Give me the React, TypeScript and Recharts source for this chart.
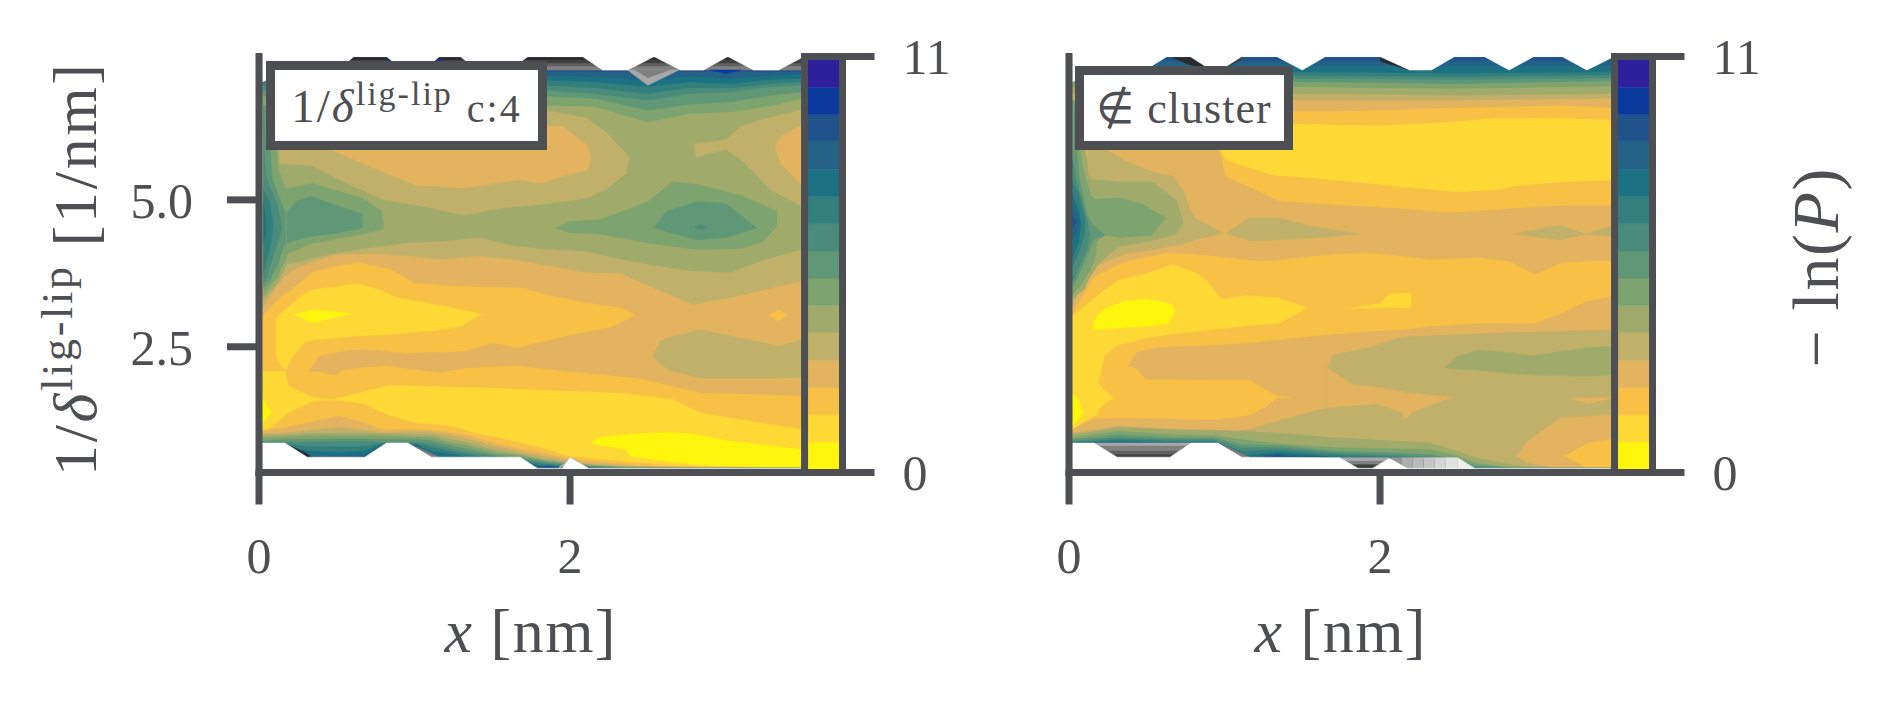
import { Area, ComposedChart, Label, ReferenceLine, XAxis, YAxis } from "recharts";

type Band = { level: number; x: number[]; lo: number[]; hi: number[] };

const INK = "#4e4f53";
const SERIF = "'Liberation Serif', serif";

// colour steps of -ln(P), from 0 (yellow) up to 11 (indigo)
const levelColors = [
  "#fef50c", "#fed936", "#f8c146", "#e3b35f", "#c1b06a", "#a0ab6b", "#7da36f", "#5f9777",
  "#4a8c7c", "#337f7e", "#1c7283", "#246287", "#20528c", "#0a3a9e", "#2e1f9d",
];
// greys used outside of the colour range, keyed by level
const greyColors: Record<number, string> = {
  15: "#a8a8a8", 16: "#808080", 17: "#606060", 18: "#404040", 19: "#2b2b2b",
  20: "#e2e2e2", 21: "#c6c6c6", 22: "#aeaeae", 23: "#969696", 24: "#bababa", 25: "#d4d4d4", 26: "#eeeeee",
  [-1]: "#ffffff",
};

const xTicks = [0, 2];
const yTicks = [2.5, 5];
const cbarTicks = [0, 11];
const cbarEdges = [0.09, 0.81, 1.53, 2.25, 2.97, 3.7, 4.42, 5.14, 5.86, 6.58, 7.3, 8.02, 8.75, 9.47, 10.19, 10.91];
const cbarX = [3.53, 3.73];

const Y_MIN = 0.36;
const Y_MAX = 7.44;
const Y_TOP = 7.42; // highest value the contours reach, just under the axis top
const X_MAX = 3.752;

const floor = (x: number[]) => x.map(() => Y_MIN);
const ceil = (x: number[]) => x.map(() => Y_TOP);

/* ---------- left panel, c:4 ---------- */
const gridX = [0.02, 0.25, 0.48, 0.72, 0.95, 1.18, 1.41, 1.64, 1.87, 2.1, 2.33, 2.56, 2.79, 3.03, 3.26, 3.49];

const leftLobes: Band[] = [
  { level: 5, x: [0.02, 3.49], lo: [Y_MIN, Y_MIN], hi: [Y_TOP, Y_TOP] },
  { level: 4, x: gridX, lo: floor(gridX), hi: [3.81, 3.94, 4.08, 4.18, 4.26, 4.29, 4.35, 4.21, 4.15, 4.12, 3.98, 3.87, 3.78, 3.76, 3.98, 4.15] },
  { level: 4, x: [0.13, 0.34, 0.47, 0.8, 1.06, 1.32, 1.56, 1.87, 2.11, 2.24, 2.36, 2.38], lo: [5.62, 5.59, 5.4, 5.0, 4.89, 4.74, 4.86, 4.94, 5.03, 5.2, 5.45, 5.71], hi: [6.42, 6.47, 6.5, 6.5, 6.5, 6.5, 6.5, 6.51, 6.39, 6.13, 5.79, 5.71] },
  { level: 4, x: [2.8, 2.81, 3.0, 3.1, 3.19, 3.29, 3.49], lo: [5.96, 5.72, 5.86, 5.68, 5.45, 5.17, 4.89], hi: [5.96, 5.95, 6.02, 6.25, 6.33, 6.4, 6.53] },
  { level: 3, x: [0.47, 0.64, 0.77, 1.01, 1.32, 1.66, 1.82, 1.95, 2.11, 2.135], lo: [5.85, 5.65, 5.51, 5.25, 5.2, 5.34, 5.29, 5.4, 5.51, 5.71], hi: [5.85, 6.25, 6.25, 6.25, 6.25, 6.25, 6.25, 6.25, 5.93, 5.71] },
  { level: 3, x: [3.32, 3.356, 3.49], lo: [5.91, 5.62, 5.25], hi: [5.91, 6.08, 6.27] },
  { level: 3, x: [0.02, 0.1, 0.17, 0.25, 0.48, 0.72, 0.95, 1.18, 1.41, 1.64, 1.87, 2.1, 2.33, 2.56, 2.79, 3.03, 3.26, 3.49], lo: [Y_MIN, Y_MIN, Y_MIN, Y_MIN, Y_MIN, Y_MIN, Y_MIN, Y_MIN, Y_MIN, Y_MIN, Y_MIN, Y_MIN, Y_MIN, Y_MIN, Y_MIN, Y_MIN, Y_MIN, Y_MIN], hi: [3.13, 3.47, 3.7, 3.84, 4.06, 4.08, 4.04, 3.98, 4.04, 3.98, 3.87, 3.76, 3.74, 3.47, 3.21, 3.33, 3.47, 3.61] },
  { level: 4, x: [2.53, 2.58, 2.63, 2.84, 3.34, 3.49], lo: [2.34, 2.22, 2.11, 1.97, 1.97, 1.98], hi: [2.34, 2.59, 2.65, 2.79, 2.51, 2.62] },
  { level: 2, x: [0.02, 0.15, 0.25, 0.34, 0.48, 0.64, 0.85, 1.0, 1.19, 1.43, 1.69, 1.85, 2.05, 2.32, 2.42, 2.425, 2.84, 3.49], lo: [Y_MIN, Y_MIN, Y_MIN, Y_MIN, Y_MIN, Y_MIN, Y_MIN, Y_MIN, Y_MIN, Y_MIN, Y_MIN, Y_MIN, Y_MIN, Y_MIN, Y_MIN, Y_MIN, Y_MIN, Y_MIN], hi: [3.02, 3.36, 3.55, 3.76, 3.86, 3.93, 3.81, 3.58, 3.54, 3.51, 3.5, 3.38, 3.27, 3.16, 3.04, 1.97, 1.71, 1.66] },
  { level: 3, x: [0.32, 0.39, 0.495, 0.53, 0.665, 0.82, 0.93, 1.16, 1.32, 1.505, 1.66, 2.0, 2.25, 2.37, 2.42, 2.44], lo: [2.08, 2.08, 2.02, 2.1, 2.15, 2.18, 2.14, 2.06, 2.14, 2.17, 2.18, 2.08, 2.02, 1.98, 1.97, 1.95], hi: [2.08, 2.34, 2.39, 2.42, 2.45, 2.42, 2.39, 2.4, 2.42, 2.56, 2.48, 2.69, 2.82, 2.96, 3.04, 3.04] },
  { level: 2, x: [3.285, 3.34, 3.395], lo: [3.04, 2.93, 3.04], hi: [3.04, 3.12, 3.04] },
  { level: 1, x: [0.11, 0.167, 0.22, 0.3, 0.35, 0.64, 0.77, 0.89, 1.19, 1.295, 1.43], lo: [2.34, 2.11, 2.36, 2.59, 2.62, 2.69, 2.7, 2.72, 2.8, 2.85, 3.06], hi: [2.99, 3.13, 3.24, 3.41, 3.47, 3.57, 3.47, 3.33, 3.19, 3.13, 3.06] },
  { level: 1, x: [0.02, 0.075, 0.167, 0.19, 0.34, 0.47, 0.665, 0.836, 1.01, 1.24, 1.45, 1.505, 1.82, 2.0, 2.37, 2.66, 2.84, 3.49], lo: [1.09, 1.12, 1.34, 1.38, 1.57, 1.6, 1.54, 1.34, 1.21, 1.15, 1.0, 0.98, 0.78, 0.64, 0.55, 0.49, 0.47, 0.43], hi: [2.08, 2.08, 2.08, 1.83, 1.64, 1.6, 1.72, 1.84, 1.83, 1.81, 1.8, 1.79, 1.76, 1.74, 1.7, 1.6, 1.37, 1.09] },
  { level: 0, x: [0.23, 0.35, 0.47, 0.59], lo: [3.04, 2.91, 2.99, 3.06], hi: [3.04, 3.13, 3.1, 3.06] },
  { level: 0, x: [0.02, 0.075], lo: [1.2, 1.37], hi: [1.63, 1.4] },
  { level: 0, x: [2.135, 2.19, 2.36, 2.385, 2.63, 2.77, 2.84, 3.03, 3.49], lo: [0.87, 0.83, 0.75, 0.64, 0.55, 0.51, 0.49, 0.47, 0.43], hi: [0.87, 0.96, 1.0, 1.01, 1.04, 1.02, 0.98, 0.89, 0.75] },
  { level: 5, x: [0.028, 0.07, 0.114, 0.156, 0.178, 0.21], lo: [3.3, 3.44, 3.57, 3.78, 3.89, 4.04], hi: [5.0, 5.0, 5.0, 5.0, 4.5, 4.04] },
];

const leftIslands: Band[] = [
  { level: 6, x: [0.14, 0.34, 0.48, 0.665, 0.79, 0.8], lo: [4.04, 4.26, 4.33, 4.42, 4.5, 4.53], hi: [5.17, 5.28, 5.17, 5.03, 4.8, 4.55] },
  { level: 7, x: [0.156, 0.177, 0.24, 0.33, 0.49, 0.66, 0.665], lo: [4.21, 4.26, 4.32, 4.38, 4.43, 4.52, 4.53], hi: [4.21, 4.77, 4.97, 5.06, 4.91, 4.76, 4.55] },
  { level: 6, x: [1.91, 2.0, 2.19, 2.4, 2.5, 2.66, 2.84, 3.11, 3.24, 3.33], lo: [4.52, 4.44, 4.42, 4.32, 4.27, 4.21, 4.15, 4.18, 4.29, 4.55], hi: [4.52, 4.63, 4.66, 4.86, 4.97, 5.31, 5.25, 5.06, 4.91, 4.8] },
  { level: 7, x: [2.54, 2.62, 2.82, 3.0, 3.2], lo: [4.53, 4.46, 4.32, 4.36, 4.52], hi: [4.53, 4.8, 4.97, 4.94, 4.52] },
  { level: 8, x: [2.8, 2.84, 2.88], lo: [4.53, 4.5, 4.53], hi: [4.53, 4.57, 4.53] },
];

const leftWalls: Band[] = [
  { level: 6, x: [0.028, 0.082, 0.114, 0.124, 0.135, 0.171, 0.178], lo: [3.38, 3.58, 3.67, 3.7, 3.81, 3.97, 4.09], hi: [6.9, 6.0, 5.85, 5.51, 5.45, 5.18, 5.16] },
  { level: 7, x: [0.028, 0.071, 0.086, 0.124, 0.156, 0.171], lo: [3.5, 3.64, 3.72, 3.92, 4.21, 4.23], hi: [6.9, 5.85, 5.34, 5.08, 4.87, 4.77] },
  { level: 8, x: [0.028, 0.04, 0.06, 0.114, 0.147], lo: [3.58, 3.62, 3.81, 4.21, 4.52], hi: [6.8, 5.45, 5.28, 4.94, 4.52] },
  { level: 9, x: [0.028, 0.071, 0.092], lo: [3.75, 4.21, 4.55], hi: [5.17, 4.94, 4.55] },
  { level: 10, x: [0.028, 0.04, 0.043], lo: [4.26, 4.38, 4.55], hi: [4.94, 4.74, 4.55] },
];

const leftTopX = [0.02, 1.85, 2.16, 2.5, 2.77, 3.03, 3.29, 3.49];
const leftTopBands: Band[] = [
  { level: 6, x: leftTopX, hi: ceil(leftTopX), lo: [6.61, 6.61, 6.59, 6.33, 6.47, 6.5, 6.6, 6.73] },
  { level: 7, x: leftTopX, hi: ceil(leftTopX), lo: [6.77, 6.77, 6.73, 6.53, 6.63, 6.67, 6.78, 6.84] },
  { level: 8, x: leftTopX, hi: ceil(leftTopX), lo: [6.87, 6.87, 6.81, 6.7, 6.81, 6.84, 6.93, 6.95] },
  { level: 9, x: leftTopX, hi: ceil(leftTopX), lo: [6.95, 6.95, 6.91, 6.81, 6.91, 6.91, 6.98, 7.01] },
  { level: 10, x: leftTopX, hi: ceil(leftTopX), lo: [7.04, 7.04, 7.01, 6.93, 7.01, 6.98, 7.05, 7.07] },
  { level: 11, x: leftTopX, hi: ceil(leftTopX), lo: [7.12, 7.12, 7.1, 7.04, 7.11, 7.07, 7.12, 7.14] },
  { level: 12, x: leftTopX, hi: ceil(leftTopX), lo: [7.18, 7.18, 7.18, 7.18, 7.18, 7.18, 7.18, 7.18] },
  { level: 16, x: leftTopX, hi: ceil(leftTopX), lo: [7.21, 7.21, 7.21, 7.21, 7.21, 7.21, 7.21, 7.21] },
  { level: 17, x: leftTopX, hi: ceil(leftTopX), lo: [7.28, 7.28, 7.28, 7.28, 7.28, 7.28, 7.28, 7.28] },
  { level: 18, x: leftTopX, hi: ceil(leftTopX), lo: [7.33, 7.33, 7.33, 7.33, 7.33, 7.33, 7.33, 7.33] },
  { level: 19, x: leftTopX, hi: ceil(leftTopX), lo: [7.39, 7.39, 7.39, 7.39, 7.39, 7.39, 7.39, 7.39] },
  { level: 15, x: [2.37, 2.5, 2.7], lo: [7.21, 6.95, 7.21], hi: [7.21, 7.21, 7.21] },
  { level: 16, x: [2.42, 2.5, 2.64], lo: [7.21, 7.08, 7.21], hi: [7.21, 7.21, 7.21] },
  { level: 13, x: [2.9, 3.0, 3.1], lo: [7.21, 7.15, 7.21], hi: [7.21, 7.21, 7.21] },
  { level: 13, x: [0.78, 0.84, 0.89], lo: [7.32, 7.32, 7.32], hi: [7.32, 7.4, 7.32] },
  { level: 13, x: [1.11, 1.17, 1.22], lo: [7.32, 7.32, 7.32], hi: [7.32, 7.4, 7.32] },
];

const leftBottomX = [0.02, 0.167, 0.31, 0.51, 0.68, 0.78, 1.01, 1.11, 1.24, 1.35, 1.505, 1.69, 1.82, 2.0, 2.12, 2.37, 2.77, 3.49];
const leftBottomBands: Band[] = [
  { level: 3, x: leftBottomX, lo: floor(leftBottomX), hi: [1.06, 1.12, 1.2, 1.32, 1.2, 1.09, 1.09, 1.08, 1.03, 0.98, 0.86, 0.75, 0.69, 0.58, 0.55, 0.49, 0.44, 0.43] },
  { level: 4, x: leftBottomX, lo: floor(leftBottomX), hi: [1.02, 1.03, 1.08, 1.12, 1.08, 1.04, 1.05, 1.04, 0.98, 0.92, 0.81, 0.7, 0.64, 0.55, 0.51, 0.47, 0.43, 0.43] },
  { level: 5, x: leftBottomX, lo: floor(leftBottomX), hi: [0.99, 1.0, 1.02, 1.03, 1.03, 1.02, 1.0, 1.0, 0.92, 0.86, 0.75, 0.66, 0.59, 0.52, 0.49, 0.45, 0.43, 0.43] },
  { level: 6, x: leftBottomX, lo: floor(leftBottomX), hi: [0.95, 0.96, 0.98, 0.98, 0.98, 0.98, 0.96, 0.95, 0.86, 0.81, 0.7, 0.64, 0.57, 0.51, 0.48, 0.44, 0.43, 0.43] },
  { level: 7, x: leftBottomX, lo: floor(leftBottomX), hi: [0.89, 0.92, 0.92, 0.93, 0.93, 0.92, 0.92, 0.9, 0.81, 0.75, 0.66, 0.61, 0.55, 0.49, 0.47, 0.43, 0.43, 0.43] },
  { level: 8, x: leftBottomX, lo: floor(leftBottomX), hi: [0.87, 0.87, 0.87, 0.89, 0.89, 0.87, 0.87, 0.85, 0.76, 0.7, 0.64, 0.59, 0.52, 0.48, 0.45, 0.43, 0.43, 0.43] },
  { level: 9, x: leftBottomX, lo: floor(leftBottomX), hi: [0.85, 0.85, 0.8, 0.8, 0.8, 0.85, 0.85, 0.79, 0.71, 0.66, 0.59, 0.56, 0.5, 0.47, 0.44, 0.43, 0.43, 0.43] },
  { level: 10, x: leftBottomX, lo: floor(leftBottomX), hi: [0.83, 0.83, 0.72, 0.7, 0.72, 0.83, 0.83, 0.72, 0.67, 0.61, 0.56, 0.52, 0.48, 0.45, 0.43, 0.43, 0.43, 0.43] },
  { level: 11, x: leftBottomX, lo: floor(leftBottomX), hi: [0.83, 0.81, 0.62, 0.64, 0.66, 0.81, 0.83, 0.62, 0.6, 0.58, 0.56, 0.52, 0.46, 0.43, 0.43, 0.43, 0.43, 0.43] },
  { level: 12, x: [0.6, 0.68, 0.72], lo: [0.6, 0.6, 0.6], hi: [0.62, 0.64, 0.62] },
  { level: 12, x: [1.8, 1.86, 1.92], lo: [0.43, 0.43, 0.43], hi: [0.44, 0.47, 0.44] },
  { level: 19, x: [0.16, 0.31, 0.34], lo: [0.84, 0.62, 0.62], hi: [0.86, 0.68, 0.62] },
  { level: 16, x: [0.955, 1.11, 1.16], lo: [0.84, 0.62, 0.62], hi: [0.86, 0.68, 0.62] },
  { level: 15, x: [1.93, 2.0, 2.05], lo: [0.43, 0.53, 0.5], hi: [0.45, 0.61, 0.56] },
];

const leftTopEdgeX = [0.02, 0.25, 0.51, 0.61, 0.82, 0.93, 1.06, 1.16, 1.295, 1.4, 1.61, 1.73, 2.08, 2.21, 2.37, 2.54, 2.71, 2.857, 3.015, 3.18, 3.34, 3.49];
const leftTopEdge = [7.01, 7.21, 7.21, 7.44, 7.44, 7.21, 7.21, 7.44, 7.44, 7.21, 7.21, 7.44, 7.44, 7.21, 7.21, 7.44, 7.21, 7.21, 7.44, 7.21, 7.21, 7.42];
const leftBottomEdgeX = [0.02, 0.167, 0.31, 0.68, 0.82, 0.955, 1.11, 1.68, 1.79, 1.95, 2.0, 2.12, 3.49];
const leftBottomEdge = [0.86, 0.86, 0.62, 0.62, 0.86, 0.86, 0.62, 0.62, 0.43, 0.43, 0.61, 0.43, 0.43];

/* ---------- right panel, not in cluster ---------- */
const rightLobes: Band[] = [
  { level: 3, x: [0.02, 3.49], lo: [Y_MIN, Y_MIN], hi: [Y_TOP, Y_TOP] },
  { level: 2, x: [0.97, 1.01, 1.35, 1.715, 2.11, 2.45, 2.84, 3.16, 3.49], lo: [5.85, 5.4, 4.99, 4.92, 4.86, 4.79, 4.86, 4.91, 4.91], hi: [5.85, 6.4, 6.5, 6.5, 6.53, 6.56, 6.58, 6.6, 6.56] },
  { level: 4, x: [1.66, 1.7, 1.925, 2.135, 2.63, 3.49], lo: [Y_MIN, Y_MIN, Y_MIN, Y_MIN, Y_MIN, Y_MIN], hi: [2.14, 2.36, 2.48, 2.66, 2.72, 2.79] },
  { level: 4, x: [0.02, 0.32, 0.665, 0.93, 1.16, 1.375, 1.66], lo: [Y_MIN, Y_MIN, Y_MIN, Y_MIN, Y_MIN, Y_MIN, Y_MIN], hi: [1.03, 1.15, 1.09, 1.03, 1.09, 1.26, 1.46] },
  { level: 5, x: [2.42, 2.5, 2.63, 2.84, 2.975, 3.16, 3.32, 3.49], lo: [2.15, 2.12, 2.1, 2.05, 2.02, 2.01, 2.0, 2.02], hi: [2.15, 2.34, 2.44, 2.4, 2.34, 2.42, 2.48, 2.5] },
  { level: 3, x: [1.66, 1.83, 1.98, 2.135, 2.16, 2.21, 2.46], lo: [1.46, 1.5, 1.53, 1.4, 1.27, 1.4, 1.64], hi: [2.14, 1.85, 1.81, 1.74, 1.72, 1.7, 1.64] },
  { level: 3, x: [2.88, 2.95, 3.16, 3.49], lo: [0.64, 0.53, 0.43, 0.43], hi: [0.64, 0.89, 1.29, 1.34] },
  { level: 3, x: [3.225, 3.34, 3.49], lo: [1.63, 1.53, 1.63], hi: [1.63, 1.63, 1.63] },
  { level: 2, x: [3.19, 3.34, 3.49], lo: [0.64, 0.43, 0.43], hi: [0.64, 0.86, 0.92] },
  { level: 2, x: [0.02, 0.167, 0.34, 0.38, 0.64, 0.93, 1.16, 1.27, 1.335, 1.43, 1.435, 1.585, 1.77, 1.925, 2.135, 2.32, 2.63, 2.83, 3.0, 3.16, 3.32, 3.49], lo: [1.12, 1.28, 1.29, 1.29, 1.28, 1.26, 1.34, 1.49, 1.63, 1.64, 2.64, 2.69, 2.73, 2.77, 2.79, 2.85, 2.9, 2.9, 2.91, 3.07, 3.27, 3.36], hi: [3.07, 3.7, 3.92, 3.95, 4.1, 4.04, 3.97, 3.95, 3.96, 4.0, 4.0, 4.04, 4.08, 4.09, 4.04, 3.98, 4.01, 3.95, 3.72, 3.92, 3.95, 3.95] },
  { level: 3, x: [0.38, 0.43, 0.495, 0.59, 0.95, 1.16, 1.335, 1.43, 1.45], lo: [2.17, 2.14, 1.95, 1.95, 1.94, 1.94, 1.67, 1.64, 1.62], hi: [2.17, 2.39, 2.44, 2.49, 2.52, 2.56, 2.61, 2.64, 2.66] },
  { level: 1, x: [0.97, 1.01, 1.32, 1.45, 1.715, 1.98, 2.11, 2.5, 2.77, 2.84, 3.16, 3.49], lo: [5.85, 5.68, 5.42, 5.4, 5.34, 5.27, 5.23, 5.14, 5.18, 5.23, 5.31, 5.34], hi: [5.85, 6.02, 6.27, 6.29, 6.27, 6.26, 6.27, 6.33, 6.39, 6.38, 6.39, 6.35] },
  { level: 1, x: [0.02, 0.14, 0.18, 0.19, 0.23, 0.29, 0.32, 0.51, 0.665, 0.82, 0.89, 0.98, 1.14, 1.35, 1.53], lo: [1.09, 1.3, 1.34, 1.43, 1.54, 1.63, 2.53, 2.66, 2.72, 2.76, 2.79, 2.81, 2.86, 2.9, 3.16], hi: [3.02, 3.27, 3.36, 3.38, 3.47, 3.57, 3.63, 3.75, 3.9, 3.75, 3.61, 3.3, 3.37, 3.33, 3.16] },
  { level: 2, x: [0.19, 0.23, 0.29, 0.32, 0.38], lo: [1.88, 1.76, 1.63, 1.6, 1.6], hi: [1.88, 2.34, 2.48, 2.53, 2.55] },
  { level: 0, x: [0.155, 0.22, 0.35, 0.495, 0.64, 0.665, 0.68], lo: [2.79, 2.8, 2.83, 2.85, 2.9, 3.02, 3.13], hi: [2.93, 3.13, 3.27, 3.31, 3.24, 3.21, 3.13] },
  { level: 0, x: [0.02, 0.06, 0.088], lo: [1.15, 1.26, 1.37], hi: [1.71, 1.6, 1.37] },
  { level: 1, x: [1.81, 2.0, 2.06, 2.2], lo: [3.15, 3.16, 3.17, 3.17], hi: [3.15, 3.23, 3.4, 3.41] },
  { level: 4, x: [0.02, 0.125, 0.24, 0.37, 0.53, 0.67, 0.73, 0.78, 0.81, 0.99], lo: [3.19, 3.81, 3.95, 4.09, 4.15, 4.22, 4.25, 4.29, 4.32, 4.43], hi: [3.4, 5.85, 5.85, 5.65, 5.48, 5.4, 5.17, 4.83, 4.69, 4.43] },
  { level: 4, x: [1.01, 1.16, 1.35, 1.56, 1.86], lo: [4.43, 4.31, 4.32, 4.35, 4.42], hi: [4.43, 4.69, 4.69, 4.55, 4.42] },
  { level: 4, x: [2.87, 3.16, 3.32, 3.49], lo: [4.42, 4.32, 4.42, 4.38], hi: [4.42, 4.57, 4.42, 4.55] },
  { level: 5, x: [0.02, 0.103, 0.125, 0.167, 0.22], lo: [3.3, 3.5, 3.65, 3.81, 4.06], hi: [6.9, 5.95, 5.4, 5.3, 4.06] },
  { level: 5, x: [0.14, 0.19, 0.32, 0.53, 0.69, 0.73], lo: [3.84, 3.92, 4.21, 4.31, 4.42, 4.6], hi: [5.34, 5.34, 5.31, 5.31, 5.0, 4.66] },
  { level: 6, x: [0.14, 0.23, 0.33, 0.49, 0.53, 0.62], lo: [4.21, 4.4, 4.36, 4.39, 4.4, 4.69], hi: [5.0, 5.02, 5.03, 4.91, 4.83, 4.69] },
];

const rightWalls: Band[] = [
  { level: 6, x: [0.02, 0.07, 0.092, 0.135, 0.156, 0.178], lo: [3.38, 3.53, 3.62, 3.81, 3.93, 4.12], hi: [6.9, 5.85, 5.51, 5.12, 5.01, 5.0] },
  { level: 7, x: [0.028, 0.06, 0.09, 0.114, 0.156, 0.232], lo: [3.53, 3.7, 3.89, 4.04, 4.32, 4.4], hi: [6.9, 5.45, 5.06, 4.76, 4.57, 4.4] },
  { level: 8, x: [0.02, 0.05, 0.082, 0.114, 0.135], lo: [3.58, 3.75, 3.97, 4.15, 4.4], hi: [5.7, 5.28, 5.0, 4.69, 4.4] },
  { level: 9, x: [0.02, 0.06, 0.103], lo: [3.85, 4.09, 4.43], hi: [5.3, 5.11, 4.66] },
  { level: 10, x: [0.02, 0.06, 0.077], lo: [4.04, 4.26, 4.6], hi: [5.11, 4.83, 4.6] },
  { level: 11, x: [0.02, 0.06, 0.065], lo: [4.32, 4.52, 4.6], hi: [4.91, 4.69, 4.6] },
  { level: 12, x: [0.02, 0.045], lo: [4.49, 4.63], hi: [4.74, 4.63] },
];

const rightTopX = [0.02, 1.45, 1.98, 2.5, 3.49];
const rightTopBands: Band[] = [
  { level: 4, x: rightTopX, hi: ceil(rightTopX), lo: [6.7, 6.7, 6.7, 6.7, 6.73] },
  { level: 5, x: rightTopX, hi: ceil(rightTopX), lo: [6.81, 6.81, 6.8, 6.78, 6.81] },
  { level: 6, x: rightTopX, hi: ceil(rightTopX), lo: [6.93, 6.93, 6.91, 6.9, 6.94] },
  { level: 7, x: rightTopX, hi: ceil(rightTopX), lo: [7.01, 7.01, 7.0, 6.98, 7.03] },
  { level: 8, x: rightTopX, hi: ceil(rightTopX), lo: [7.07, 7.07, 7.06, 7.05, 7.08] },
  { level: 9, x: rightTopX, hi: ceil(rightTopX), lo: [7.12, 7.12, 7.11, 7.1, 7.13] },
  { level: 10, x: rightTopX, hi: ceil(rightTopX), lo: [7.18, 7.18, 7.17, 7.16, 7.18] },
  { level: 11, x: rightTopX, hi: ceil(rightTopX), lo: [7.29, 7.29, 7.29, 7.29, 7.29] },
  { level: 12, x: rightTopX, hi: ceil(rightTopX), lo: [7.37, 7.37, 7.37, 7.37, 7.37] },
  { level: 19, x: [0.665, 0.78, 0.915], lo: [7.42, 7.3, 7.21], hi: [7.42, 7.42, 7.21] },
  { level: 18, x: [1.0, 1.11], lo: [7.25, 7.38], hi: [7.3, 7.42] },
  { level: 19, x: [2.0, 2.19], lo: [7.36, 7.21], hi: [7.42, 7.21] },
];

const rightBottomX = [0.02, 0.32, 0.665, 0.93, 1.11, 1.335, 1.715, 2.11, 2.32, 2.5, 2.61, 2.87, 3.03, 3.49];
const rightBottomBands: Band[] = [
  { level: 5, x: rightBottomX, lo: floor(rightBottomX), hi: [1.0, 1.12, 1.09, 1.08, 1.06, 1.03, 0.95, 0.89, 0.86, 0.72, 0.61, 0.48, 0.43, 0.43] },
  { level: 6, x: rightBottomX, lo: floor(rightBottomX), hi: [0.95, 1.06, 1.0, 0.99, 0.92, 0.85, 0.78, 0.76, 0.75, 0.64, 0.52, 0.43, 0.43, 0.43] },
  { level: 7, x: rightBottomX, lo: floor(rightBottomX), hi: [0.92, 1.0, 0.95, 0.95, 0.83, 0.82, 0.72, 0.69, 0.66, 0.58, 0.48, 0.43, 0.43, 0.43] },
  { level: 8, x: rightBottomX, lo: floor(rightBottomX), hi: [0.89, 0.95, 0.92, 0.92, 0.78, 0.78, 0.69, 0.65, 0.62, 0.52, 0.44, 0.43, 0.43, 0.43] },
  { level: 9, x: rightBottomX, lo: floor(rightBottomX), hi: [0.87, 0.92, 0.89, 0.89, 0.72, 0.74, 0.66, 0.62, 0.6, 0.48, 0.43, 0.43, 0.43, 0.43] },
  { level: 10, x: rightBottomX, lo: floor(rightBottomX), hi: [0.86, 0.89, 0.86, 0.86, 0.64, 0.7, 0.62, 0.6, 0.58, 0.44, 0.43, 0.43, 0.43, 0.43] },
  { level: 11, x: rightBottomX, lo: floor(rightBottomX), hi: [0.86, 0.86, 0.86, 0.86, 0.62, 0.66, 0.61, 0.58, 0.55, 0.43, 0.43, 0.43, 0.43, 0.43] },
  { level: 12, x: [1.25, 1.335, 1.42], lo: [0.6, 0.6, 0.6], hi: [0.62, 0.66, 0.62] },
  { level: 15, x: [0.16, 0.785], lo: [0.81, 0.81], hi: [0.86, 0.86] },
  { level: 16, x: [0.16, 0.785], lo: [0.72, 0.72], hi: [0.81, 0.81] },
  { level: 17, x: [0.16, 0.785], lo: [0.66, 0.66], hi: [0.72, 0.72] },
  { level: 18, x: [0.16, 0.785], lo: [0.6, 0.6], hi: [0.66, 0.66] },
  { level: 16, x: [0.955, 1.11, 1.16], lo: [0.84, 0.62, 0.62], hi: [0.86, 0.68, 0.62] },
  { level: 15, x: [1.74, 2.06], lo: [0.55, 0.55], hi: [0.61, 0.61] },
  { level: 16, x: [1.74, 2.06], lo: [0.49, 0.49], hi: [0.55, 0.55] },
  { level: 18, x: [1.74, 2.06], lo: [0.43, 0.43], hi: [0.49, 0.49] },
  { level: 23, x: [2.07, 2.14], lo: [0.43, 0.43], hi: [0.61, 0.61] },
  { level: 22, x: [2.14, 2.21], lo: [0.43, 0.43], hi: [0.61, 0.61] },
  { level: 24, x: [2.21, 2.28], lo: [0.43, 0.43], hi: [0.61, 0.61] },
  { level: 21, x: [2.28, 2.35], lo: [0.43, 0.43], hi: [0.61, 0.61] },
  { level: 25, x: [2.35, 2.42], lo: [0.43, 0.43], hi: [0.61, 0.61] },
  { level: 20, x: [2.42, 2.5], lo: [0.43, 0.43], hi: [0.61, 0.61] },
  { level: 26, x: [2.5, 2.61], lo: [0.43, 0.43], hi: [0.61, 0.43] },
];

const rightTopEdgeX = [0.02, 0.25, 0.49, 0.63, 0.78, 0.915, 0.975, 1.11, 1.335, 1.5, 1.65, 2.0, 2.19, 2.33, 2.48, 2.67, 2.83, 2.99, 3.17, 3.33, 3.49];
const rightTopEdge = [7.01, 7.21, 7.21, 7.44, 7.44, 7.21, 7.21, 7.44, 7.44, 7.21, 7.44, 7.44, 7.21, 7.21, 7.44, 7.44, 7.21, 7.44, 7.44, 7.21, 7.42];
const rightBottomEdgeX = [0.02, 0.16, 0.31, 0.65, 0.785, 0.955, 1.11, 1.74, 1.86, 1.95, 2.06, 2.175, 3.49];
const rightBottomEdge = [0.86, 0.86, 0.62, 0.62, 0.86, 0.86, 0.62, 0.61, 0.43, 0.43, 0.6, 0.43, 0.43];

const colorOf = (level: number) => (level >= 0 && level < 15 ? levelColors[level] : greyColors[level]);

const bandArea = (b: Band, key: string, axis = "main") => {
  const rows = b.x.map((x, i) => ({ x, range: [b.lo[i], b.hi[i]] }));
  const color = colorOf(b.level);
  return (
    <Area
      key={key}
      data={rows}
      yAxisId={axis}
      dataKey="range"
      type="linear"
      fill={color}
      fillOpacity={1}
      stroke={color}
      strokeWidth={0.6}
      dot={false}
      activeDot={false}
      legendType="none"
      isAnimationActive={false}
    />
  );
};

const Panel = ({
  left,
  bands,
  topEdgeX,
  topEdge,
  bottomEdgeX,
  bottomEdge,
  showYLabels,
}: {
  left: number;
  bands: Band[];
  topEdgeX: number[];
  topEdge: number[];
  bottomEdgeX: number[];
  bottomEdge: number[];
  showYLabels: boolean;
}) => {
  const tickStyle = { fontFamily: SERIF, fontSize: 50, fill: INK };
  const cbarBands: Band[] = levelColors.map((_, i) => ({
    level: i,
    x: cbarX,
    lo: [cbarEdges[i], cbarEdges[i]],
    hi: [cbarEdges[i + 1], cbarEdges[i + 1]],
  }));
  return (
    <div style={{ position: "absolute", left, top: 0 }}>
      <ComposedChart width={1080} height={706} margin={{ top: 56.5, right: 0, bottom: 0, left: 0 }}>
        <XAxis
          type="number"
          dataKey="x"
          domain={[0, X_MAX]}
          ticks={xTicks}
          height={233.5}
          allowDataOverflow
          tickSize={32}
          tickMargin={33}
          tick={tickStyle}
          axisLine={{ stroke: INK, strokeWidth: 7, strokeLinecap: "square" }}
          tickLine={{ stroke: INK, strokeWidth: 7 }}
          label={{
            content: () => (
              <text x={530} y={652} fontFamily={SERIF} fontSize={62} fill={INK} textAnchor="middle" textLength={171}>
                <tspan fontStyle="italic">x</tspan>
                <tspan> [nm]</tspan>
              </text>
            ),
          }}
        />
        <YAxis
          yAxisId="main"
          type="number"
          domain={[Y_MIN, Y_MAX]}
          ticks={yTicks}
          width={259}
          allowDataOverflow
          interval={0}
          tickSize={32}
          tickMargin={34}
          tick={showYLabels ? tickStyle : false}
          tickFormatter={(v: number) => v.toFixed(1)}
          axisLine={{ stroke: INK, strokeWidth: 7, strokeLinecap: "square" }}
          tickLine={{ stroke: INK, strokeWidth: 7 }}
        >
          {showYLabels && (
            <Label
              content={() => (
                <text
                  transform="translate(96 270) rotate(-90)"
                  fontFamily={SERIF}
                  fontSize={62}
                  fill={INK}
                  textAnchor="middle"
                  textLength={412}
                >
                  <tspan>1/</tspan>
                  <tspan fontStyle="italic">δ</tspan>
                  <tspan fontSize={44} dy={-24}>lig-lip</tspan>
                  <tspan dy={24}> [1/nm]</tspan>
                </text>
              )}
            />
          )}
        </YAxis>
        <YAxis
          yAxisId="cbar"
          orientation="right"
          type="number"
          domain={[0, 11]}
          ticks={cbarTicks}
          width={237.5}
          interval={0}
          tickSize={32}
          tickMargin={28}
          tick={tickStyle}
          axisLine={{ stroke: INK, strokeWidth: 7, strokeLinecap: "square" }}
          tickLine={{ stroke: INK, strokeWidth: 7 }}
        >
          {!showYLabels && (
            <Label
              content={() => (
                <text
                  transform="translate(1028 268) rotate(-90)"
                  fontFamily={SERIF}
                  fontSize={66}
                  fill={INK}
                  textAnchor="middle"
                  textLength={199}
                >
                  <tspan>− ln(</tspan>
                  <tspan fontStyle="italic">P</tspan>
                  <tspan>)</tspan>
                </text>
              )}
            />
          )}
        </YAxis>

        {bands.map((b, i) => bandArea(b, `band-${i}`))}
        {bandArea({ level: -1, x: topEdgeX, lo: topEdge, hi: topEdgeX.map(() => 7.6) }, "mask-top")}
        {bandArea({ level: -1, x: bottomEdgeX, lo: floor(bottomEdgeX), hi: bottomEdge }, "mask-bottom")}
        {cbarBands.map((b, i) => bandArea(b, `cbar-${i}`, "cbar"))}

        <ReferenceLine yAxisId="main" x={3.508} stroke={INK} strokeWidth={7} />
        <ReferenceLine
          yAxisId="main"
          stroke={INK}
          strokeWidth={7}
          segment={[
            { x: 3.485, y: Y_MAX },
            { x: X_MAX, y: Y_MAX },
          ]}
        />
      </ComposedChart>
    </div>
  );
};

const boxStyle = {
  position: "absolute",
  boxSizing: "border-box",
  background: "#fff",
  border: `9px solid ${INK}`,
  color: INK,
  fontFamily: SERIF,
  fontSize: 47,
  whiteSpace: "nowrap",
  display: "flex",
  alignItems: "center",
  justifyContent: "center",
} as const;

export default function App() {
  return (
    <div style={{ position: "absolute", left: 0, top: 0, width: 1890, height: 706, background: "#fff", overflow: "hidden" }}>
      <Panel
        left={0}
        bands={[...leftLobes, ...leftIslands, ...leftWalls, ...leftTopBands, ...leftBottomBands]}
        topEdgeX={leftTopEdgeX}
        topEdge={leftTopEdge}
        bottomEdgeX={leftBottomEdgeX}
        bottomEdge={leftBottomEdge}
        showYLabels
      />
      <Panel
        left={810}
        bands={[...rightLobes, ...rightWalls, ...rightTopBands, ...rightBottomBands]}
        topEdgeX={rightTopEdgeX}
        topEdge={rightTopEdge}
        bottomEdgeX={rightBottomEdgeX}
        bottomEdge={rightBottomEdge}
        showYLabels={false}
      />
      <div style={{ ...boxStyle, left: 266, top: 61, width: 281, height: 89 }}>
        <span style={{ letterSpacing: 2 }}>
          1/<i>δ</i>
          <sup style={{ fontSize: 34, lineHeight: 0 }}>lig-lip</sup>
          <span style={{ marginLeft: 14, fontSize: 40 }}>c:4</span>
        </span>
      </div>
      <div style={{ ...boxStyle, left: 1075, top: 66, width: 218, height: 84, fontSize: 44, letterSpacing: 1 }}>∉ cluster</div>
    </div>
  );
}
